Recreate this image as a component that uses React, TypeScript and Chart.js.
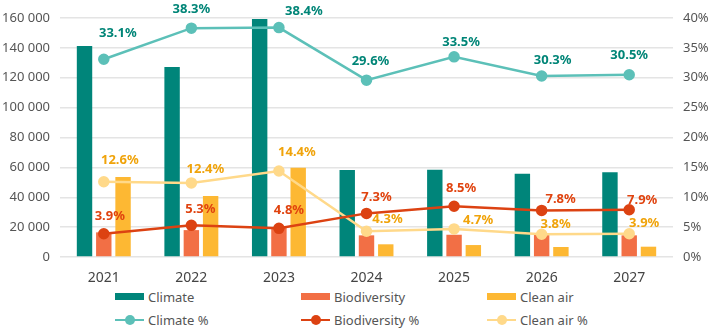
import React, { useEffect, useRef } from "react";
import { Chart, registerables } from "chart.js";
Chart.register(...registerables);

const years = ["2021", "2022", "2023", "2024", "2025", "2026", "2027"];
const climate = [141200, 127200, 159300, 58200, 58400, 55800, 56700];
const biodiversity = [16500, 18000, 19600, 14500, 14900, 14800, 14500];
const cleanAir = [53600, 40800, 59800, 8500, 8000, 6700, 6900];
const climatePct = [33.1, 38.3, 38.4, 29.6, 33.5, 30.3, 30.5];
const biodiversityPct = [3.9, 5.3, 4.8, 7.3, 8.5, 7.8, 7.9];
const cleanAirPct = [12.6, 12.4, 14.4, 4.3, 4.7, 3.8, 3.9];
const leftMax = 160000;
const leftStep = 20000;
const rightMax = 40;
const rightStep = 5;

// label placement offsets (dx, dy) in px for the percentage labels
const climateLabelDx = [14, 0, 25, 4, 7, 11, 0];
const climateLabelDy = [-26, -19, -16, -19, -15, -16, -19];
const bioLabelDx = [6, 9, 10, 10, 7, 19, 13];
const bioLabelDy = [-17, -16, -18, -16, -18, -11, -10];
const cleanLabelDx = [16, 14, 18, 21, 24, 14, 15];
const cleanLabelDy = [-21, -14, -19, -12, -9, -10, -10];

const FONT = "'Noto Sans', sans-serif";

const C_CLIMATE = "#00857a";
const C_BIO = "#f26f45";
const C_CLEAN = "#fdb833";
const C_CLIMATE_L = "#5cc0b8";
const C_BIO_L = "#dc4212";
const C_CLEAN_L = "#ffd98a";
const T_CLIMATE = "#008577";
const T_BIO = "#e0430f";
const T_CLEAN = "#f0a30a";

const fmtThousands = (v: number) =>
  String(v).replace(/\B(?=(\d{3})+(?!\d))/g, " ");

const labelPlugin = {
  id: "pctLabels",
  afterDatasetsDraw(chart: any) {
    const ctx = chart.ctx;
    const cfg: any[] = [
      { idx: 3, color: T_CLIMATE, dx: climateLabelDx, dy: climateLabelDy },
      { idx: 4, color: T_BIO, dx: bioLabelDx, dy: bioLabelDy },
      { idx: 5, color: T_CLEAN, dx: cleanLabelDx, dy: cleanLabelDy },
    ];
    ctx.save();
    ctx.font = `bold 13px ${FONT}`;
    ctx.textAlign = "center";
    ctx.textBaseline = "middle";
    for (const c of cfg) {
      const meta = chart.getDatasetMeta(c.idx);
      const data = chart.data.datasets[c.idx].data;
      ctx.fillStyle = c.color;
      meta.data.forEach((pt: any, i: number) => {
        ctx.fillText(
          data[i].toFixed(1) + "%",
          pt.x + c.dx[i],
          pt.y + c.dy[i]
        );
      });
    }
    ctx.restore();
  },
};

function LegendItem({ kind, color, text }: { kind: string; color: string; text: string }) {
  return (
    <div style={{ display: "flex", alignItems: "center", height: 23 }}>
      {kind === "bar" ? (
        <div style={{ width: 29, height: 7, background: color, marginRight: 4 }} />
      ) : (
        <div style={{ position: "relative", width: 29, height: 10, marginRight: 4 }}>
          <div
            style={{
              position: "absolute",
              left: 0,
              top: 4,
              width: 29,
              height: 2.5,
              background: color,
            }}
          />
          <div
            style={{
              position: "absolute",
              left: 10,
              top: 0,
              width: 10,
              height: 10,
              borderRadius: 5,
              background: color,
            }}
          />
        </div>
      )}
      <span style={{ fontFamily: FONT, fontSize: 13, color: "#555" }}>{text}</span>
    </div>
  );
}

export default function App() {
  const ref = useRef<HTMLCanvasElement | null>(null);
  useEffect(() => {
    if (!ref.current) return;
    const chart = new Chart(ref.current, {
      type: "bar",
      data: {
        labels: years,
        datasets: [
          { type: "bar", label: "Climate", data: climate, backgroundColor: C_CLIMATE, yAxisID: "y", order: 2 },
          { type: "bar", label: "Biodiversity", data: biodiversity, backgroundColor: C_BIO, yAxisID: "y", order: 2 },
          { type: "bar", label: "Clean air", data: cleanAir, backgroundColor: C_CLEAN, yAxisID: "y", order: 2 },
          {
            type: "line", label: "Climate %", data: climatePct, borderColor: C_CLIMATE_L,
            backgroundColor: C_CLIMATE_L, pointBackgroundColor: C_CLIMATE_L, pointBorderColor: C_CLIMATE_L,
            borderWidth: 2.5, pointRadius: 4.5, yAxisID: "y1", order: 1,
          },
          {
            type: "line", label: "Biodiversity %", data: biodiversityPct, borderColor: C_BIO_L,
            backgroundColor: C_BIO_L, pointBackgroundColor: C_BIO_L, pointBorderColor: C_BIO_L,
            borderWidth: 2.5, pointRadius: 4.5, yAxisID: "y1", order: 0,
          },
          {
            type: "line", label: "Clean air %", data: cleanAirPct, borderColor: C_CLEAN_L,
            backgroundColor: C_CLEAN_L, pointBackgroundColor: C_CLEAN_L, pointBorderColor: C_CLEAN_L,
            borderWidth: 2.5, pointRadius: 4.5, yAxisID: "y1", order: 0,
          },
        ] as any,
      },
      options: {
        responsive: false,
        animation: false,
        maintainAspectRatio: false,
        layout: { padding: { top: 18, left: 0, right: 0, bottom: 0 } },
        datasets: { bar: { categoryPercentage: 0.66, barPercentage: 0.8 } } as any,
        plugins: { legend: { display: false }, tooltip: { enabled: false } },
        scales: {
          x: {
            grid: { display: false },
            border: { display: false },
            ticks: { color: "#444", font: { family: FONT, size: 14 }, padding: 5 },
            afterFit: (s: any) => { s.height = 25; },
          },
          y: {
            position: "left",
            min: 0,
            max: leftMax,
            grid: { color: "#e4e4e4", lineWidth: 1.5, drawTicks: false },
            border: { display: false },
            ticks: {
              stepSize: leftStep,
              color: "#555",
              padding: 10,
              font: { family: FONT, size: 13 },
              callback: (v: any) => fmtThousands(Number(v)),
            },
            afterFit: (s: any) => { s.width = 60; },
          },
          y1: {
            position: "right",
            min: 0,
            max: rightMax,
            grid: { display: false, drawTicks: false },
            border: { display: false },
            ticks: {
              stepSize: rightStep,
              color: "#555",
              padding: 10,
              font: { family: FONT, size: 13 },
              callback: (v: any) => v + "%",
            },
            afterFit: (s: any) => { s.width = 39; },
          },
        },
      },
      plugins: [labelPlugin],
    });
    return () => chart.destroy();
  }, []);

  return (
    <div style={{ position: "absolute", left: 0, top: 0, width: 712, height: 329, background: "#fff" }}>
      <canvas ref={ref} width={712} height={282} style={{ display: "block", width: 712, height: 282 }} />
      <div
        style={{
          position: "absolute",
          left: 115,
          top: 285,
          display: "grid",
          gridTemplateColumns: "186px 186px 186px",
        }}
      >
        <LegendItem kind="bar" color={C_CLIMATE} text="Climate" />
        <LegendItem kind="bar" color={C_BIO} text="Biodiversity" />
        <LegendItem kind="bar" color={C_CLEAN} text="Clean air" />
        <LegendItem kind="line" color={C_CLIMATE_L} text="Climate %" />
        <LegendItem kind="line" color={C_BIO_L} text="Biodiversity %" />
        <LegendItem kind="line" color={C_CLEAN_L} text="Clean air %" />
      </div>
    </div>
  );
}
